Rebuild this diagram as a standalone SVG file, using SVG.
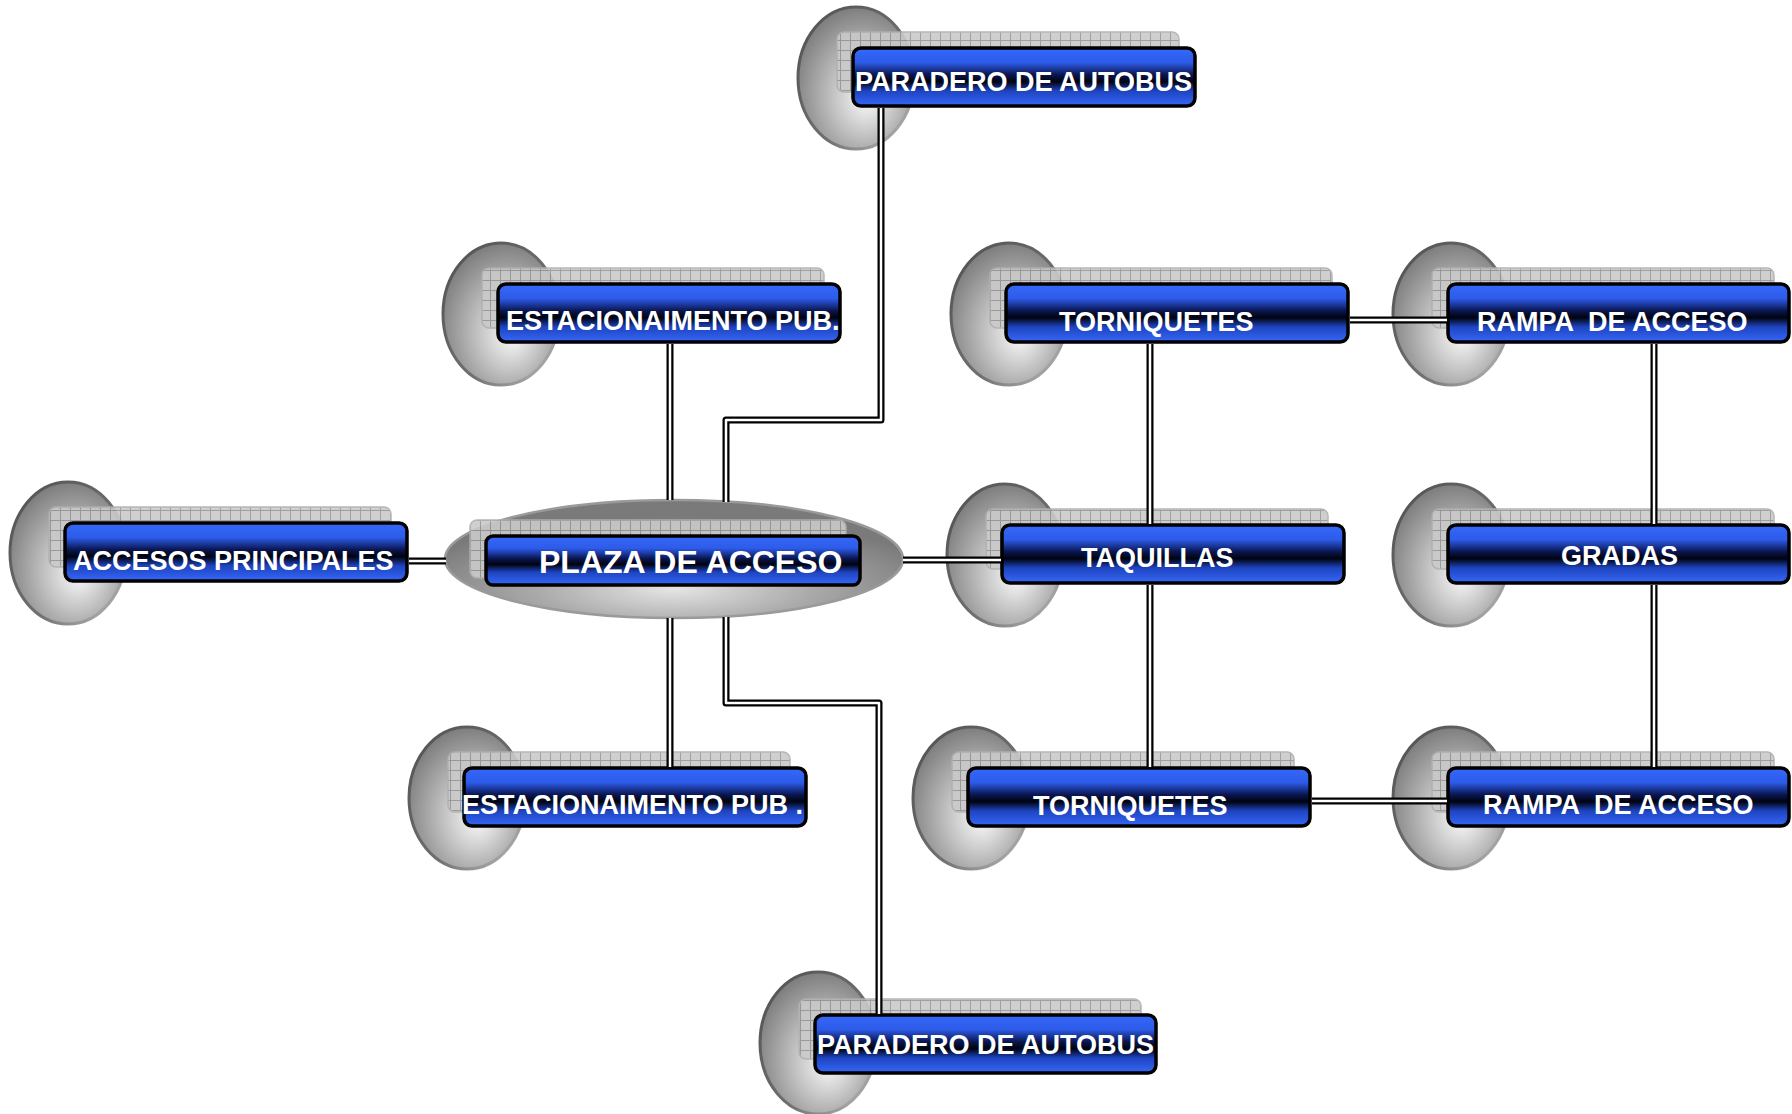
<svg xmlns="http://www.w3.org/2000/svg" width="1792" height="1114" viewBox="0 0 1792 1114">
<style>
.lbl{font-family:"Liberation Sans",Arial,sans-serif;font-weight:bold;font-size:27px;fill:#fff;white-space:pre}
.box{fill:url(#blue);stroke:#000;stroke-width:3.5}
.disc{fill:url(#discG);stroke:url(#rimG);stroke-width:3}
.grid{fill:url(#gridP);stroke:#b0b0b0;stroke-width:1.5;opacity:0.9}
.outer{fill:none;stroke:#000;stroke-width:7;stroke-linejoin:round}
.inner{fill:none;stroke:#fff;stroke-width:2.5;stroke-linejoin:round}
</style>
<defs>
<linearGradient id="blue" x1="0" y1="0" x2="0" y2="1">
<stop offset="0" stop-color="#3668f8"/>
<stop offset="0.25" stop-color="#2d5bea"/>
<stop offset="0.46" stop-color="#0a1650"/>
<stop offset="0.58" stop-color="#00030f"/>
<stop offset="0.74" stop-color="#1e44c0"/>
<stop offset="1" stop-color="#3668f8"/>
</linearGradient>
<radialGradient id="discG" cx="0.55" cy="0.6" r="0.6" fx="0.6" fy="0.65">
<stop offset="0" stop-color="#fbfbfb"/>
<stop offset="0.45" stop-color="#c4c4c4"/>
<stop offset="1" stop-color="#7e7e7e"/>
</radialGradient>
<linearGradient id="rimG" x1="0" y1="0" x2="1" y2="1">
<stop offset="0" stop-color="#505050"/>
<stop offset="0.6" stop-color="#707070"/>
<stop offset="1" stop-color="#c0c0c0"/>
</linearGradient>
<radialGradient id="plazaG" cx="0.5" cy="0.75" r="0.6">
<stop offset="0" stop-color="#e6e6e6"/>
<stop offset="0.5" stop-color="#aaaaaa"/>
<stop offset="1" stop-color="#7a7a7a"/>
</radialGradient>
<pattern id="gridP" width="10" height="10" patternUnits="userSpaceOnUse">
<rect width="10" height="10" fill="#cacaca"/>
<path d="M0,0.5 H10 M0.5,0 V10" stroke="#969696" stroke-width="1"/>
</pattern>
</defs>

<g id="node-paradero-top">
<ellipse class="disc" cx="856" cy="78" rx="58" ry="71"/>
<rect class="grid" x="837" y="32" width="342" height="60" rx="7"/>
<rect class="box" x="853" y="48" width="342" height="58" rx="8"/>
<text class="lbl" x="855" y="91">PARADERO DE AUTOBUS</text>
</g>
<g id="node-estac-top">
<ellipse class="disc" cx="501" cy="314" rx="58" ry="71"/>
<rect class="grid" x="482" y="268" width="342" height="60" rx="7"/>
<rect class="box" x="498" y="284" width="342" height="58" rx="8"/>
<text class="lbl" x="506" y="330">ESTACIONAIMENTO PUB.</text>
</g>
<g id="node-accesos">
<ellipse class="disc" cx="68" cy="553" rx="58" ry="71"/>
<rect class="grid" x="49" y="507" width="342" height="60" rx="7"/>
<rect class="box" x="65" y="523" width="342" height="58" rx="8"/>
<text class="lbl" x="73" y="570">ACCESOS PRINCIPALES</text>
</g>
<g id="node-plaza">
<ellipse cx="674" cy="559" rx="229" ry="59" fill="url(#plazaG)" stroke="#9a9a9a" stroke-width="2.5"/>
<rect class="grid" x="470" y="520" width="376" height="58" rx="7" opacity="0.75"/>
<rect class="box" x="486" y="536" width="374" height="49" rx="7"/>
<text class="lbl" x="539" y="573" style="font-size:32px">PLAZA DE ACCESO</text>
</g>
<g id="node-torn-top">
<ellipse class="disc" cx="1009" cy="314" rx="58" ry="71"/>
<rect class="grid" x="990" y="268" width="342" height="60" rx="7"/>
<rect class="box" x="1006" y="284" width="342" height="58" rx="8"/>
<text class="lbl" x="1059" y="331">TORNIQUETES</text>
</g>
<g id="node-rampa-top">
<ellipse class="disc" cx="1451" cy="314" rx="58" ry="71"/>
<rect class="grid" x="1432" y="268" width="342" height="60" rx="7"/>
<rect class="box" x="1448" y="284" width="341" height="58" rx="8"/>
<text class="lbl" x="1477" y="331">RAMPA  DE ACCESO</text>
</g>
<g id="node-taquillas">
<ellipse class="disc" cx="1005" cy="555" rx="58" ry="71"/>
<rect class="grid" x="986" y="509" width="342" height="60" rx="7"/>
<rect class="box" x="1002" y="525" width="342" height="58" rx="8"/>
<text class="lbl" x="1081" y="567">TAQUILLAS</text>
</g>
<g id="node-gradas">
<ellipse class="disc" cx="1451" cy="555" rx="58" ry="71"/>
<rect class="grid" x="1432" y="509" width="342" height="60" rx="7"/>
<rect class="box" x="1448" y="525" width="341" height="58" rx="8"/>
<text class="lbl" x="1561" y="565">GRADAS</text>
</g>
<g id="node-estac-bot">
<ellipse class="disc" cx="467" cy="798" rx="58" ry="71"/>
<rect class="grid" x="448" y="752" width="342" height="60" rx="7"/>
<rect class="box" x="464" y="768" width="342" height="58" rx="8"/>
<text class="lbl" x="462" y="814">ESTACIONAIMENTO PUB .</text>
</g>
<g id="node-torn-bot">
<ellipse class="disc" cx="971" cy="798" rx="58" ry="71"/>
<rect class="grid" x="952" y="752" width="342" height="60" rx="7"/>
<rect class="box" x="968" y="768" width="342" height="58" rx="8"/>
<text class="lbl" x="1033" y="815">TORNIQUETES</text>
</g>
<g id="node-rampa-bot">
<ellipse class="disc" cx="1451" cy="798" rx="58" ry="71"/>
<rect class="grid" x="1432" y="752" width="342" height="60" rx="7"/>
<rect class="box" x="1448" y="768" width="341" height="58" rx="8"/>
<text class="lbl" x="1483" y="814">RAMPA  DE ACCESO</text>
</g>
<g id="node-paradero-bot">
<ellipse class="disc" cx="818" cy="1043" rx="58" ry="71"/>
<rect class="grid" x="799" y="999" width="342" height="60" rx="7"/>
<rect class="box" x="815" y="1015" width="341" height="58" rx="8"/>
<text class="lbl" x="817" y="1054">PARADERO DE AUTOBUS</text>
</g>

<g id="connectors">
<g class="outer">
<path d="M670,344 V500"/>
<path d="M881,108 V420 H726 V502"/>
<path d="M670,618 V767"/>
<path d="M726,617 V703 H879 V1014"/>
<path d="M409,561 H446"/>
<path d="M903,560 H1001"/>
<path d="M1150,344 V524"/>
<path d="M1150,585 V767"/>
<path d="M1350,320 H1447"/>
<path d="M1654,344 V524"/>
<path d="M1654,585 V767"/>
<path d="M1312,801 H1447"/>
</g>
<g class="inner">
<path d="M670,344 V500"/>
<path d="M881,108 V420 H726 V502"/>
<path d="M670,618 V767"/>
<path d="M726,617 V703 H879 V1014"/>
<path d="M409,561 H446"/>
<path d="M903,560 H1001"/>
<path d="M1150,344 V524"/>
<path d="M1150,585 V767"/>
<path d="M1350,320 H1447"/>
<path d="M1654,344 V524"/>
<path d="M1654,585 V767"/>
<path d="M1312,801 H1447"/>
</g>
</g>
</svg>
